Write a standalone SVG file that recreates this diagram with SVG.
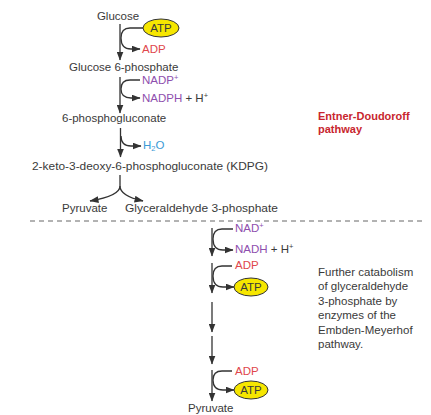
<svg xmlns="http://www.w3.org/2000/svg" width="431" height="415" viewBox="0 0 431 415">
<defs>
<marker id="ah" markerUnits="userSpaceOnUse" markerWidth="9" markerHeight="7" refX="8.5" refY="3.5" orient="auto">
<path d="M0,0 L9,3.5 L0,7 z" fill="#333"/>
</marker>
<style>
text{font-family:"Liberation Sans",Arial,sans-serif;font-size:11.5px;fill:#3a3a3a}
.red{fill:#e0474c}
.pur{fill:#8e4fae}
.blu{fill:#3a9ad6}
.hd{fill:#c8262e;font-weight:bold;font-size:11px}
.sup{font-size:7.5px}
.ln{fill:none;stroke:#333;stroke-width:1.3;marker-end:url(#ah)}
.atp{fill:#f6e600;stroke:#333;stroke-width:1}
.dash{stroke:#666;stroke-width:1;stroke-dasharray:5,4}
</style>
</defs>
<rect width="431" height="415" fill="#fff"/>
<g id="connectors">
<path class="ln" d="M120,24 V60"/>
<path class="ln" d="M143,28 H130 Q121,28 121,38 Q121,49 131,49 H140"/>
<path class="ln" d="M120,77 V113"/>
<path class="ln" d="M140,80 H130 Q121,80 121,89 Q121,98 131,98 H140"/>
<path class="ln" d="M120.5,128 V157"/>
<path class="ln" d="M121,136 Q121,146 131,146 H141"/>
<path class="ln" d="M120,175 V186 Q120,196 90,201"/>
<path class="ln" d="M120,186 Q120,196 143,201"/>
<line class="dash" x1="30" y1="221" x2="422" y2="221"/>
<path class="ln" d="M212,228 V256"/>
<path class="ln" d="M233,229 H222 Q213,229 213,239 Q213,250 223,250 H233"/>
<path class="ln" d="M212,263 V293"/>
<path class="ln" d="M232,266 H222 Q213,266 213,276 Q213,287 223,287 H234"/>
<path class="ln" d="M212,302 V332"/>
<path class="ln" d="M212,336 V364"/>
<path class="ln" d="M212,370 V401"/>
<path class="ln" d="M232,371 H222 Q213,371 213,380 Q213,390 223,390 H234"/>
</g>
<g id="glucose"><text x="118" y="20" text-anchor="middle">Glucose</text></g>
<g id="atp1"><ellipse class="atp" cx="161" cy="28" rx="18" ry="9"/><text x="161" y="32" text-anchor="middle">ATP</text></g>
<g id="adp1"><text class="red" x="142" y="53">ADP</text></g>
<g id="g6p"><text x="69" y="71">Glucose 6-phosphate</text></g>
<g id="nadp"><text class="pur" x="142" y="84">NADP<tspan class="sup" dy="-4">+</tspan></text></g>
<g id="nadph"><text x="142" y="102"><tspan class="pur">NADPH</tspan> + H<tspan class="sup" dy="-4">+</tspan></text></g>
<g id="pg"><text x="62" y="122">6-phosphogluconate</text></g>
<g id="ed"><text class="hd" x="318" y="120">Entner-Doudoroff</text><text class="hd" x="318" y="133">pathway</text></g>
<g id="h2o"><text class="blu" x="143" y="149">H<tspan font-size="7.5" dy="2">2</tspan><tspan dy="-2">O</tspan></text></g>
<g id="kdpg"><text x="32" y="170" textLength="236" lengthAdjust="spacingAndGlyphs">2-keto-3-deoxy-6-phosphogluconate (KDPG)</text></g>
<g id="pyr1"><text x="62" y="212">Pyruvate</text></g>
<g id="g3p"><text x="125" y="212" textLength="153" lengthAdjust="spacingAndGlyphs">Glyceraldehyde 3-phosphate</text></g>
<g id="nad"><text class="pur" x="235" y="232">NAD<tspan class="sup" dy="-4">+</tspan></text></g>
<g id="nadh"><text x="235" y="253"><tspan class="pur">NADH</tspan> + H<tspan class="sup" dy="-4">+</tspan></text></g>
<g id="adp2"><text class="red" x="235" y="269">ADP</text></g>
<g id="atp2"><ellipse class="atp" cx="251" cy="287" rx="17" ry="9"/><text x="251" y="291" text-anchor="middle">ATP</text></g>
<g id="note"><text x="318" y="276">Further catabolism</text><text x="318" y="290">of glyceraldehyde</text><text x="318" y="305">3-phosphate by</text><text x="318" y="319">enzymes of the</text><text x="318" y="334">Embden-Meyerhof</text><text x="318" y="348">pathway.</text></g>
<g id="adp3"><text class="red" x="235" y="375">ADP</text></g>
<g id="atp3"><ellipse class="atp" cx="251" cy="390" rx="17" ry="9"/><text x="251" y="394" text-anchor="middle">ATP</text></g>
<g id="pyr2"><text x="188" y="412">Pyruvate</text></g>
</svg>
